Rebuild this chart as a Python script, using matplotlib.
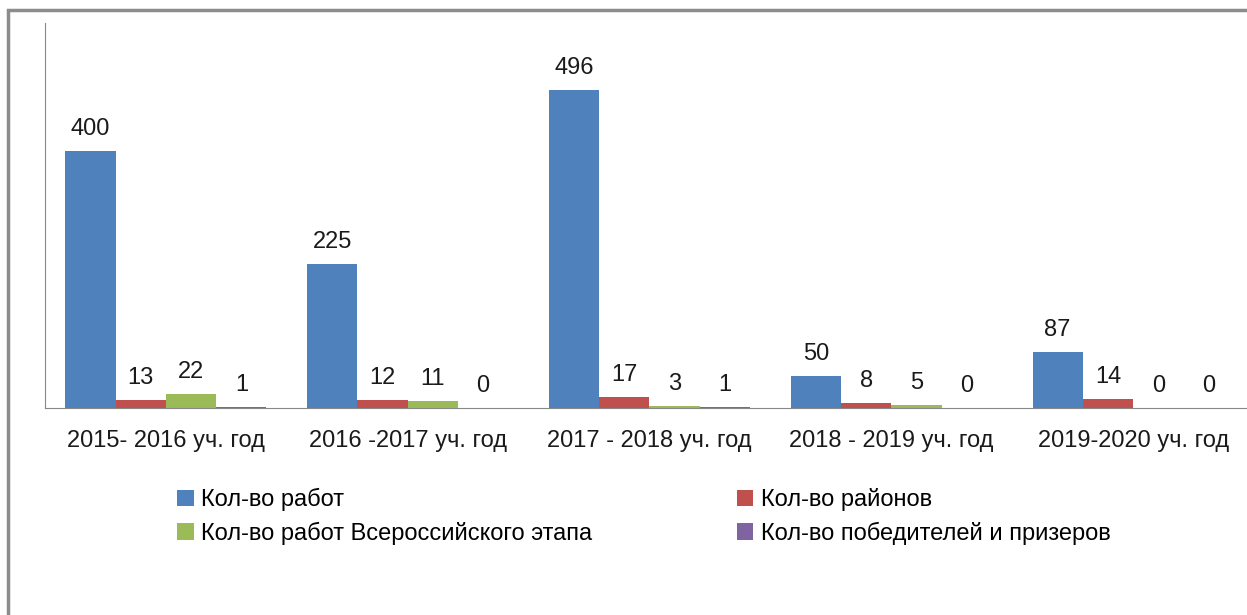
import matplotlib.pyplot as plt
import numpy as np
from matplotlib.patches import Rectangle

years = ["2015- 2016 уч. год", "2016 -2017 уч. год", "2017 - 2018 уч. год",
         "2018 - 2019 уч. год", "2019-2020 уч. год"]
works = [400, 225, 496, 50, 87]
districts = [13, 12, 17, 8, 14]
all_russia = [22, 11, 3, 5, 0]
winners = [1, 0, 1, 0, 0]

series_names = ["Кол-во работ", "Кол-во районов",
                "Кол-во работ Всероссийского этапа", "Кол-во победителей и призеров"]
colors = ["#4F81BD", "#C0504D", "#9BBB59", "#8064A2"]

plt.rcParams['font.family'] = ['Liberation Sans', 'DejaVu Sans']
fs = 17

fig = plt.figure(figsize=(12.47, 6.15), dpi=100)
ax = fig.add_axes([45 / 1247, 1 - 408 / 615, (1254 - 45) / 1247, (408 - 23) / 615])

x = np.arange(len(years))
w = 0.208
bars = []
for i, (vals, name, c) in enumerate(zip([works, districts, all_russia, winners], series_names, colors)):
    b = ax.bar(x + (i - 1.5) * w, vals, w, color=c, label=name)
    ax.bar_label(b, padding=8, fontsize=fs, color="#1a1a1a")
    bars.append(b)

ax.set_xlim(-0.5, len(years) - 0.5)
ax.set_ylim(0, 600)
ax.set_xticks(x)
ax.set_xticklabels(years, fontsize=fs, color="#1a1a1a")
ax.tick_params(axis="x", length=0, pad=16)
ax.set_yticks([])
for s in ["top", "right"]:
    ax.spines[s].set_visible(False)
ax.spines["left"].set_color("#888888")
ax.spines["bottom"].set_color("#888888")

# legend: blue/green in first column, red/purple in second
order = [0, 2, 1, 3]
fig.legend([bars[i] for i in order], [series_names[i] for i in order],
           ncol=2, loc="upper left", bbox_to_anchor=(177 / 1247, 1 - 488 / 615),
           frameon=False, fontsize=fs, handlelength=0.7, handleheight=0.7,
           handletextpad=0.3, columnspacing=6.15, labelspacing=0.44,
           borderpad=0, borderaxespad=0)

# chart frame
fig.add_artist(Rectangle((8 / 1247, -0.1), 1.2, 1 - 10 / 615 + 0.1,
                         transform=fig.transFigure, fill=False,
                         edgecolor="#8c8c8c", lw=2.5))

fig.savefig("out.png", dpi=100)
